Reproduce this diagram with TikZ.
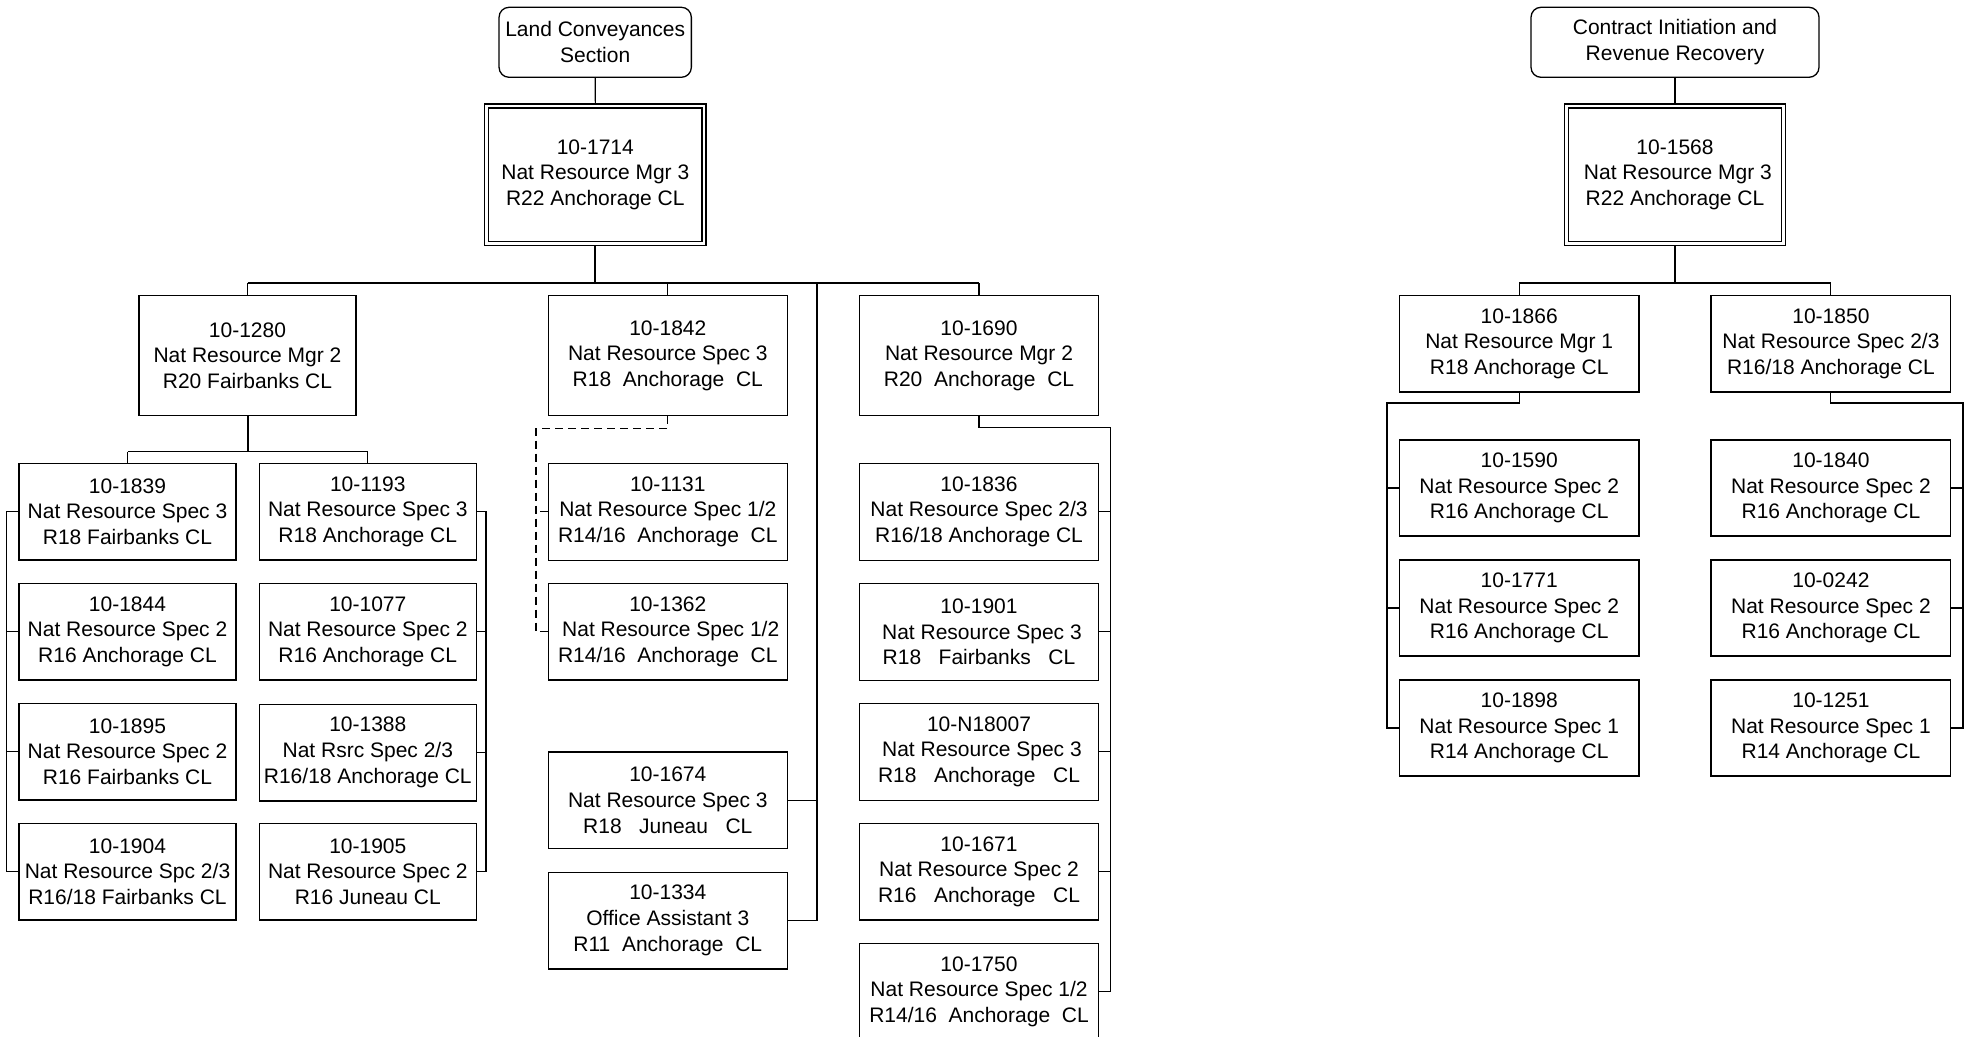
\documentclass[tikz,border=0pt]{standalone}
\usepackage{fontspec}
\setmainfont{Liberation Sans}
\begin{document}
\begin{tikzpicture}[x=1pt,y=-1pt,
  txt/.style={font=\fontsize{21}{25.8}\selectfont, align=center, inner sep=0pt},
  pbox/.style={txt, draw, line width=1.3pt, rectangle, minimum height=96.7pt},
  lbox/.style={txt, draw, line width=1.3pt, rectangle, minimum height=120.2pt},
  mbox/.style={txt, draw, line width=1.3pt, rectangle, minimum width=221.5pt, minimum height=141.3pt},
  rbox/.style={txt, draw, line width=1.3pt, rectangle, rounded corners=10pt, minimum height=70pt},
  conn/.style={line width=1.1pt},
  thickconn/.style={line width=2pt},
  dashconn/.style={line width=1.1pt, dash pattern=on 8pt off 5pt}]
\useasboundingbox (0,0) rectangle (1969,1036);
\clip (0,0) rectangle (1969,1036);

% ---------------- Left section ----------------
\node[rbox, minimum width=192.3pt] (lc) at (595.2,42.3) {Land Conveyances\\Section};
\node[mbox] (mA) at (595.3,174.7) {10-1714\\Nat Resource Mgr 3\\R22 Anchorage CL};
\draw[line width=1.3pt] ([shift={(4.7pt,-4.7pt)}]mA.north west) rectangle ([shift={(-4.7pt,4.7pt)}]mA.south east);

\node[lbox, minimum width=217pt] (a1) at (247.5,355.6) {10-1280\\Nat Resource Mgr 2\\R20 Fairbanks CL};
\node[lbox, minimum width=239pt] (a2) at (667.8,355.7) {10-1842\\Nat Resource Spec 3\\R18\ \ Anchorage\ \ CL};
\node[lbox, minimum width=239.4pt] (a3) at (979,355.7) {10-1690\\Nat Resource Mgr 2\\R20\ \ Anchorage\ \ CL};

% column 1
\node[pbox, minimum width=217pt] (l11) at (127.5,511.7) {10-1839\\Nat Resource Spec 3\\R18 Fairbanks CL};
\node[pbox, minimum width=217pt] (l12) at (127.5,631.7) {10-1844\\Nat Resource Spec 2\\R16 Anchorage CL};
\node[pbox, minimum width=217pt] (l13) at (127.5,751.7) {10-1895\\Nat Resource Spec 2\\R16 Fairbanks CL};
\node[pbox, minimum width=217pt] (l14) at (127.5,871.7) {10-1904\\Nat Resource Spc 2/3\\R16/18 Fairbanks CL};
% column 2
\node[pbox, minimum width=217pt] (l21) at (367.8,511.7) {10-1193\\Nat Resource Spec 3\\R18 Anchorage CL};
\node[pbox, minimum width=217pt] (l22) at (367.8,631.7) {10-1077\\Nat Resource Spec 2\\R16 Anchorage CL};
\node[pbox, minimum width=217pt] (l23) at (367.8,752.5) {10-1388\\Nat Rsrc Spec 2/3\\R16/18 Anchorage CL};
\node[pbox, minimum width=217pt] (l24) at (367.8,871.7) {10-1905\\Nat Resource Spec 2\\R16 Juneau CL};
% middle column
\node[pbox, minimum width=239pt] (k1) at (667.8,511.8) {10-1131\\Nat Resource Spec 1/2\\R14/16\ \ Anchorage\ \ CL};
\node[pbox, minimum width=239pt] (k2) at (667.8,631.7) {10-1362\\\ Nat Resource Spec 1/2\\R14/16\ \ Anchorage\ \ CL};
\node[pbox, minimum width=239pt] (k3) at (667.8,800.3) {10-1674\\Nat Resource Spec 3\\R18\ \ \ Juneau\ \ \ CL};
\node[pbox, minimum width=239pt] (k4) at (667.8,920.5) {10-1334\\Office Assistant 3\\R11\ \ Anchorage\ \ CL};
% right column
\node[pbox, minimum width=239.4pt] (r1) at (979,511.8) {10-1836\\Nat Resource Spec 2/3\\R16/18 Anchorage CL};
\node[pbox, minimum width=239.4pt] (r2) at (979,631.8) {10-1901\\\ Nat Resource Spec 3\\R18\ \ \ Fairbanks\ \ \ CL};
\node[pbox, minimum width=239.4pt] (r3) at (979,751.8) {10-N18007\\\ Nat Resource Spec 3\\R18\ \ \ Anchorage\ \ \ CL};
\node[pbox, minimum width=239.4pt] (r4) at (979,871.7) {10-1671\\Nat Resource Spec 2\\R16\ \ \ Anchorage\ \ \ CL};
\node[pbox, minimum width=239.4pt] (r5) at (979,991.7) {10-1750\\Nat Resource Spec 1/2\\R14/16\ \ Anchorage\ \ CL};

% connectors, left section
\draw[conn] (lc.south) -- (mA.north);
\coordinate (bar1) at (595.3,283.3);
\draw[thickconn] (mA.south) -- (bar1);
\draw[thickconn] (a1.north |- bar1) -- (a3.north |- bar1);
\draw[conn] (a1.north) -- (a1.north |- bar1);
\draw[conn] (a2.north) -- (a2.north |- bar1);
\draw[conn] (a3.north) -- (a3.north |- bar1);
\coordinate (jv) at (817,283.3);
\draw[conn] (jv) |- (k4.east);
\draw[conn] (k3.east) -- (k3.east -| jv);

\coordinate (bar2) at (247.5,451.7);
\draw[thickconn] (a1.south) -- (bar2);
\draw[conn] (l11.north |- bar2) -- (l21.north |- bar2);
\draw[conn] (l11.north) -- (l11.north |- bar2);
\draw[conn] (l21.north) -- (l21.north |- bar2);
\coordinate (lx) at (6.7,0);
\coordinate (rx) at (486,0);
\draw[conn] (l11.west) -- (l11.west -| lx) -- (l14.west -| lx) -- (l14.west);
\draw[conn] (l12.west) -- (l12.west -| lx);
\draw[conn] (l13.west) -- (l13.west -| lx);
\draw[conn] (l21.east) -- (l21.east -| rx) -- (l24.east -| rx) -- (l24.east);
\draw[conn] (l22.east) -- (l22.east -| rx);
\draw[conn] (l23.east) -- (l23.east -| rx);

\coordinate (d1) at (536,428.3);
\draw[dashconn] (a2.south) |- (d1) |- (k2.west);
\draw[dashconn] (k1.west) -- (k1.west -| d1);

\coordinate (d2) at (1110.7,427.7);
\draw[conn] (a3.south) |- (d2) |- (r5.east);
\draw[conn] (r1.east) -- (r1.east -| d2);
\draw[conn] (r2.east) -- (r2.east -| d2);
\draw[conn] (r3.east) -- (r3.east -| d2);
\draw[conn] (r4.east) -- (r4.east -| d2);

% ---------------- Right section ----------------
\node[rbox, minimum width=288pt] (ct) at (1675,42.3) {Contract Initiation and\\Revenue Recovery};
\node[mbox] (mB) at (1675,174.7) {10-1568\\\ Nat Resource Mgr 3\\R22 Anchorage CL};
\draw[line width=1.3pt] ([shift={(4.7pt,-4.7pt)}]mB.north west) rectangle ([shift={(-4.7pt,4.7pt)}]mB.south east);

\node[pbox, minimum width=239.5pt] (b1) at (1519.2,343.7) {10-1866\\Nat Resource Mgr 1\\R18 Anchorage CL};
\node[pbox, minimum width=239.7pt] (b2) at (1830.9,343.7) {10-1850\\Nat Resource Spec 2/3\\R16/18 Anchorage CL};

\node[pbox, minimum width=239.5pt, minimum height=96pt] (c1) at (1519.2,488) {10-1590\\Nat Resource Spec 2\\R16 Anchorage CL};
\node[pbox, minimum width=239.5pt, minimum height=96pt] (c2) at (1519.2,608) {10-1771\\Nat Resource Spec 2\\R16 Anchorage CL};
\node[pbox, minimum width=239.5pt, minimum height=96pt] (c3) at (1519.2,728) {10-1898\\Nat Resource Spec 1\\R14 Anchorage CL};
\node[pbox, minimum width=239.7pt, minimum height=96pt] (e1) at (1830.9,488) {10-1840\\Nat Resource Spec 2\\R16 Anchorage CL};
\node[pbox, minimum width=239.7pt, minimum height=96pt] (e2) at (1830.9,608) {10-0242\\Nat Resource Spec 2\\R16 Anchorage CL};
\node[pbox, minimum width=239.7pt, minimum height=96pt] (e3) at (1830.9,728) {10-1251\\Nat Resource Spec 1\\R14 Anchorage CL};

\draw[conn] (ct.south) -- (mB.north);
\coordinate (bar3) at (1675,283.3);
\draw[thickconn] (mB.south) -- (bar3);
\draw[thickconn] (b1.north |- bar3) -- (b2.north |- bar3);
\draw[conn] (b1.north) -- (b1.north |- bar3);
\draw[conn] (b2.north) -- (b2.north |- bar3);

\coordinate (f1) at (1387,403);
\draw[conn] (b1.south) |- (f1) |- (c3.west);
\draw[conn] (c1.west) -- (c1.west -| f1);
\draw[conn] (c2.west) -- (c2.west -| f1);
\coordinate (f2) at (1963,403);
\draw[conn] (b2.south) |- (f2) |- (e3.east);
\draw[conn] (e1.east) -- (e1.east -| f2);
\draw[conn] (e2.east) -- (e2.east -| f2);
\end{tikzpicture}
\end{document}
